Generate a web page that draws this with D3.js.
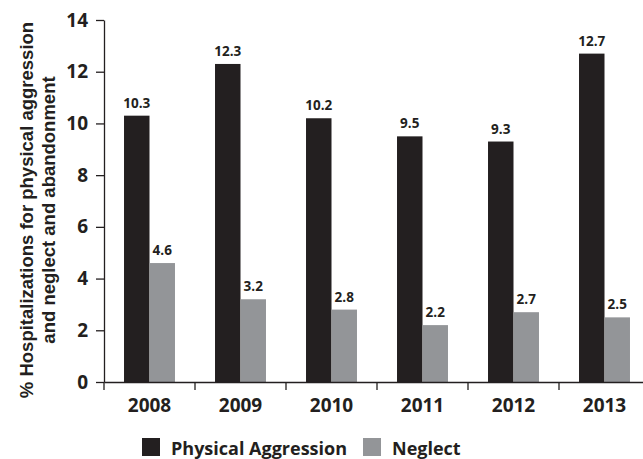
<!DOCTYPE html>
<html><head><meta charset="utf-8">
<script src="https://cdn.jsdelivr.net/npm/d3@7"></script>
<style>body{margin:0;background:#fff}svg{display:block}text{font-family:"Open Sans",Lato,sans-serif;font-weight:700;fill:#231f20}</style>
</head><body>
<script>
const years = ["2008","2009","2010","2011","2012","2013"];
const physicalAggression = [10.3, 12.3, 10.2, 9.5, 9.3, 12.7];
const neglect = [4.6, 3.2, 2.8, 2.2, 2.7, 2.5];
const seriesNames = ["Physical Aggression", "Neglect"];
const seriesColors = ["#231f20", "#939598"];
const yTicks = [0,2,4,6,8,10,12,14];

const W = 643, H = 459;
const svg = d3.select("body").append("svg").attr("width", W).attr("height", H);
const m = {left:104, top:20, bottom:382, right:650};
const FF = '"Open Sans",Lato,sans-serif';

const x = d3.scaleBand().domain(years).range([m.left, m.right]).paddingInner(0).paddingOuter(0);
const inner = d3.scaleBand().domain(seriesNames).range([x.bandwidth()*0.22, x.bandwidth()*0.78]);
const y = d3.scaleLinear().domain([0,14]).range([m.bottom, m.top]);

const data = years.map((yr,i)=>({year:yr, vals:[physicalAggression[i], neglect[i]]}));

const g = svg.append("g");
data.forEach(d=>{
  d.vals.forEach((v,j)=>{
    const bx = x(d.year) + inner(seriesNames[j]);
    g.append("rect").attr("x", bx).attr("y", y(v)).attr("width", inner.bandwidth()).attr("height", y(0)-y(v)).attr("fill", seriesColors[j]);
    g.append("text").attr("x", bx + inner.bandwidth()/2).attr("y", y(v)-8).attr("text-anchor","middle").style("font-size","13.5px").text(v.toFixed(1));
  });
});

// y axis
const yAxis = svg.append("g").attr("transform",`translate(${m.left},0)`)
  .call(d3.axisLeft(y).tickValues(yTicks).tickSize(8).tickPadding(8).tickSizeOuter(0));
yAxis.select(".domain").attr("stroke","#231f20").attr("stroke-width",1.3);
yAxis.selectAll(".tick line").attr("stroke","#231f20").attr("stroke-width",1.3);
yAxis.selectAll("text").style("font-size","19px").attr("fill","#231f20").style("font-family",FF).style("font-weight",700);

// x axis
const xAxis = svg.append("g").attr("transform",`translate(0,${m.bottom})`)
  .call(d3.axisBottom(x).tickSize(0).tickPadding(14).tickSizeOuter(0));
xAxis.select(".domain").attr("stroke","#231f20").attr("stroke-width",1.3);
xAxis.selectAll("text").style("font-size","19px").attr("fill","#231f20").style("font-family",FF).style("font-weight",700).attr("dy","0.85em");
xAxis.selectAll(".sep").data(years.slice(1)).enter().append("line")
  .attr("x1",d=>x(d)).attr("x2",d=>x(d)).attr("y1",0).attr("y2",8)
  .attr("stroke","#231f20").attr("stroke-width",1.3);
xAxis.append("line").attr("x1",m.left).attr("x2",m.left).attr("y1",0).attr("y2",8).attr("stroke","#231f20").attr("stroke-width",1.3);

// y title
const t = svg.append("text").attr("transform","translate(0,210) rotate(-90)").attr("text-anchor","middle")
  .style("font-size","18.5px").style("font-family",'"Liberation Sans",Arial,sans-serif');
t.append("tspan").attr("x",0).attr("y",33).text("% Hospitalizations for physical aggression");
t.append("tspan").attr("x",0).attr("y",55).text("and neglect and abandonment");

// legend
const lg = svg.append("g");
const legX = [142, 363];
seriesNames.forEach((s,j)=>{
  lg.append("rect").attr("x",legX[j]).attr("y",438).attr("width",18).attr("height",18).attr("fill",seriesColors[j]);
  lg.append("text").attr("x",legX[j]+29).attr("y",455).style("font-size","18px").text(s);
});
</script>
</body></html>
